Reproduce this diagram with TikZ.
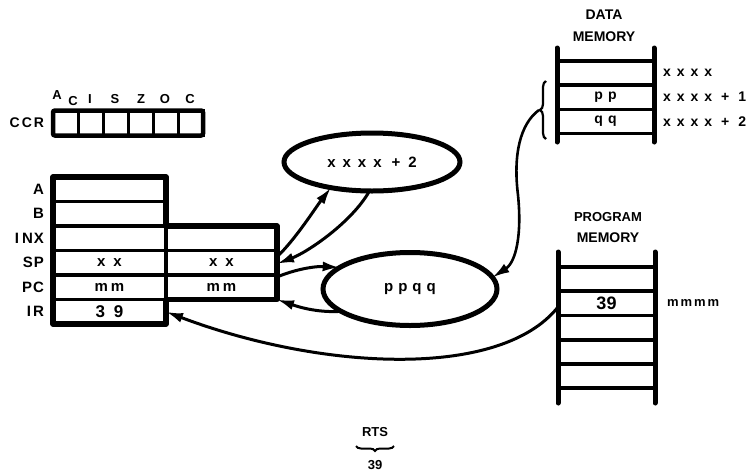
\documentclass[tikz,border=0pt]{standalone}
\usepackage{fontspec}
\setmainfont{Liberation Sans}
\usetikzlibrary{arrows.meta,shapes.geometric,decorations.pathreplacing}
\begin{document}
\begin{tikzpicture}[x=1pt,y=-1pt,
  every node/.style={inner sep=0pt,outer sep=0pt},
  fbig/.style={font=\fontsize{15}{17}\selectfont\bfseries},
  fmid/.style={font=\fontsize{14}{16}\selectfont\bfseries},
  fsmall/.style={font=\fontsize{13}{15}\selectfont\bfseries},
  cell/.style={draw,line width=3.4pt,minimum width=113pt,minimum height=24.5pt,fbig},
  rcell/.style={cell,minimum width=111pt},
  ccrcell/.style={draw,line width=3pt,minimum width=25pt,minimum height=25pt},
  frame/.style={line width=5.5pt,line join=round},
  reglabel/.style={fbig,anchor=east},
  oval/.style={draw,ellipse,line width=5pt,fbig},
  memrow/.style={minimum width=97pt,minimum height=24.2pt,fmid},
  rail/.style={line width=5pt,line cap=round},
  mline/.style={line width=3.6pt},
  tip/.style={-{Latex[length=17pt,width=10pt]}},
  arr/.style={line width=3pt,tip},
]
\useasboundingbox (0,0) rectangle (753,472);

% ---------- CCR ----------
\node[fmid,anchor=east] (ccrlab) at (44,123) {C\hspace{2pt}C\hspace{2pt}R};
\foreach \i/\x in {1/65.5,2/90.5,3/115.5,4/140.5,5/165.5,6/190.5}
  \node[ccrcell] (c\i) at (\x,123) {};
\draw[line width=4.5pt,rounded corners=2pt] (c1.north west) rectangle (c6.south east);
\node[fsmall] (fA)  at (57,95)  {A};
\node[fsmall] (fAC) at (73,101) {C};
\node[fsmall] (fI)  at (90,99)  {I};
\node[fsmall] (fS)  at (115,99) {S};
\node[fsmall] (fZ)  at (141,99) {Z};
\node[fsmall] (fO)  at (165,99) {O};
\node[fsmall] (fC)  at (190,99) {C};

% ---------- registers ----------
\node[cell] (rA)   at (109.5,189.25) {};
\node[cell] (rB)   at (109.5,213.75) {};
\node[cell] (rINX) at (109.5,238.25) {};
\node[cell] (rSP)  at (109.5,262.75) {x\hspace{8pt}x};
\node[cell] (rPC)  at (109.5,287.25) {m\hspace{3pt}m};
\node[cell] (rIR)  at (109.5,311.75) {\fontsize{17}{19}\selectfont 3\hspace{9pt}9};
\node[rcell] (sINX) at (221.5,238.25) {};
\node[rcell] (sSP)  at (221.5,262.75) {x\hspace{8pt}x};
\node[rcell] (sPC)  at (221.5,287.25) {m\hspace{3pt}m};
\draw[frame] (rA.north west) -- (rA.north east) -- (sINX.north west) -- (sINX.north east)
  -- (sPC.south east) -- (sPC.south west) -- (rIR.south east) -- (rIR.south west) -- cycle;

\node[reglabel] (lA)   at (44,189.25) {A};
\node[reglabel] (lB)   at (44,213.75) {B};
\node[reglabel] (lINX) at (44,238.25) {I\hspace{3pt}N\hspace{1pt}X};
\node[reglabel] (lSP)  at (44,262.75) {S\hspace{1pt}P};
\node[reglabel] (lPC)  at (44,287.25) {P\hspace{1pt}C};
\node[reglabel] (lIR)  at (44,311.75) {I\hspace{2pt}R};

% ---------- ellipses ----------
\node[oval,minimum width=176pt,minimum height=58pt] (e1) at (372,162)
  {x\hspace{7pt}x\hspace{7pt}x\hspace{7pt}x\hspace{10pt}+\hspace{8pt}2};
\node[oval,minimum width=174pt,minimum height=73pt] (e2) at (410,289)
  {p\hspace{5pt}p\hspace{5pt}q\hspace{5pt}q};

% ---------- data memory ----------
\node[fmid] (dt1) at (604,15) {DATA};
\node[fmid] (dt2) at (604,37) {MEMORY};
\node[memrow] (dm1) at (605.5,73)  {};
\node[memrow] (dm2) at (605.5,97)  {p\hspace{5pt}p};
\node[memrow] (dm3) at (605.5,121.5) {q\hspace{5pt}q};
\draw[rail] (557,48) -- (557,142);
\draw[rail] (654,48) -- (654,142);
\foreach \n in {dm1,dm2,dm3} \draw[mline] (\n.north west) -- (\n.north east);
\draw[mline] (dm3.south west) -- (dm3.south east);
\node[fmid,anchor=west] (da1) at (663,73)  {x\hspace{6pt}x\hspace{6pt}x\hspace{6pt}x};
\node[fmid,anchor=west] (da2) at (663,97)  {x\hspace{6pt}x\hspace{6pt}x\hspace{6pt}x\hspace{9pt}+\hspace{9pt}1};
\node[fmid,anchor=west] (da3) at (663,121.5) {x\hspace{6pt}x\hspace{6pt}x\hspace{6pt}x\hspace{9pt}+\hspace{9pt}2};
\draw[line width=2.2pt,decorate,decoration={brace,amplitude=6pt}] (546,139) -- (546,81);
\coordinate (bt) at (539,110);

% ---------- program memory ----------
\node[fsmall] (pt1) at (608,217) {PROGRAM};
\node[fmid] (pt2) at (608,238) {MEMORY};
\node[memrow] (pm1) at (606.5,279)   {};
\node[memrow] (pm2) at (606.5,303)   {\fontsize{18}{20}\selectfont 39};
\node[memrow] (pm3) at (606.5,327.5) {};
\node[memrow] (pm4) at (606.5,352)   {};
\node[memrow] (pm5) at (606.5,376)   {};
\draw[rail] (558,252) -- (558,403);
\draw[rail] (655,252) -- (655,403);
\foreach \n in {pm1,pm2,pm3,pm4,pm5} \draw[mline] (\n.north west) -- (\n.north east);
\draw[mline] (pm5.south west) -- (pm5.south east);
\node[fsmall,anchor=west] (pma) at (667,303) {m\hspace{2pt}m\hspace{2pt}m\hspace{2pt}m};

% ---------- connectors ----------
\draw[arr] ([yshift=6pt]sSP.east) .. controls (295,240) and (316,207) .. (e1.212);
\draw[arr] (e1.265) .. controls (352,222) and (308,252) .. ([yshift=-1pt]sSP.east);
\draw[arr] ([yshift=-2pt]sPC.north east) .. controls (296,269) and (316,266) .. (e2.163);
\draw[arr] (e2.198) .. controls (316,313) and (296,306) .. (sPC.south east);
\draw[line width=2.6pt,tip] (bt) .. controls (520,124) and (513,155) .. (518,195)
  .. controls (522,235) and (516,262) .. (e2.8);
\draw[arr] ([yshift=-4pt]pm2.west) .. controls (500,380) and (320,370) .. (rIR.east);

% ---------- RTS ----------
\node[fsmall] (rts) at (375,432) {RTS};
\draw[line width=2pt,decorate,decoration={brace,amplitude=5pt}] (394,446) -- (356,446);
\node[fsmall] (n39) at (375,465) {39};
\end{tikzpicture}
\end{document}
